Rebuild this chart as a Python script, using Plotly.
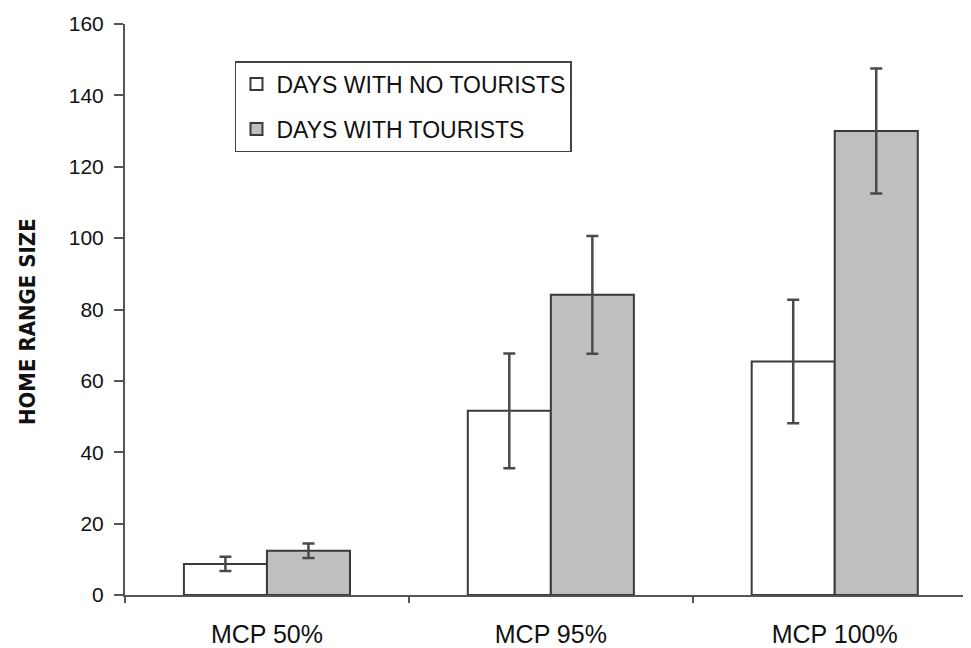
import plotly.graph_objects as go

categories = ["MCP 50%", "MCP 95%", "MCP 100%"]
no_tourists = [8.7, 51.6, 65.4]
no_tourists_err = [2.0, 16.1, 17.3]
tourists = [12.4, 84.1, 130.0]
tourists_err = [2.0, 16.5, 17.5]
y_ticks = [0, 20, 40, 60, 80, 100, 120, 140, 160]

edge = "#3a3a3a"
err_color = "#4a4a4a"

fig = go.Figure()
fig.add_trace(go.Bar(
    x=categories, y=no_tourists, name="DAYS WITH NO TOURISTS",
    marker=dict(color="white", line=dict(color=edge, width=2)),
    error_y=dict(type="data", array=no_tourists_err, color=err_color, thickness=2.5, width=6),
    legendgroup="a",
))
fig.add_trace(go.Bar(
    x=categories, y=tourists, name="DAYS WITH TOURISTS",
    marker=dict(color="#bfbfbf", line=dict(color=edge, width=2)),
    error_y=dict(type="data", array=tourists_err, color=err_color, thickness=2.5, width=6),
    legendgroup="b",
))

fig.update_layout(
    width=963, height=640,
    margin=dict(l=117, r=0, t=16, b=53),
    paper_bgcolor="white", plot_bgcolor="white",
    barmode="group", bargap=0.415, bargroupgap=0,
    font=dict(family="Arial, Liberation Sans, sans-serif", color="#111111"),
    showlegend=True,
    legend=dict(
        x=0.13, y=0.935, xanchor="left", yanchor="top",
        bgcolor="white", bordercolor="#444444", borderwidth=1.5,
        font=dict(size=23, family="Arial, Liberation Sans, sans-serif", color="#111111"),
        tracegroupgap=12, traceorder="grouped",
        itemwidth=30,
    ),
    xaxis=dict(
        range=[-0.5, 2.48], showline=True, linecolor="#555555", linewidth=2,
        ticks="outside", tickson="boundaries", ticklen=6, tickcolor="#555555", tickwidth=2,
        tickfont=dict(size=25), ticklabelstandoff=16, showgrid=False, zeroline=False,
    ),
    yaxis=dict(
        range=[0, 160], tickvals=y_ticks, showline=True, linecolor="#555555", linewidth=2,
        ticks="outside", ticklen=9, tickcolor="#555555", tickwidth=2,
        tickfont=dict(size=21), ticklabelstandoff=6, showgrid=False, zeroline=False,
    ),
    annotations=[dict(
        text="<b>HOME RANGE SIZE</b>", xref="paper", yref="paper",
        x=-0.1158, y=0.478, xanchor="center", yanchor="middle", textangle=-90,
        showarrow=False,
        font=dict(size=22, family="DejaVu Sans Condensed, Liberation Sans Narrow, sans-serif", color="#111111"),
    )],
)

fig.write_html("out.html")
